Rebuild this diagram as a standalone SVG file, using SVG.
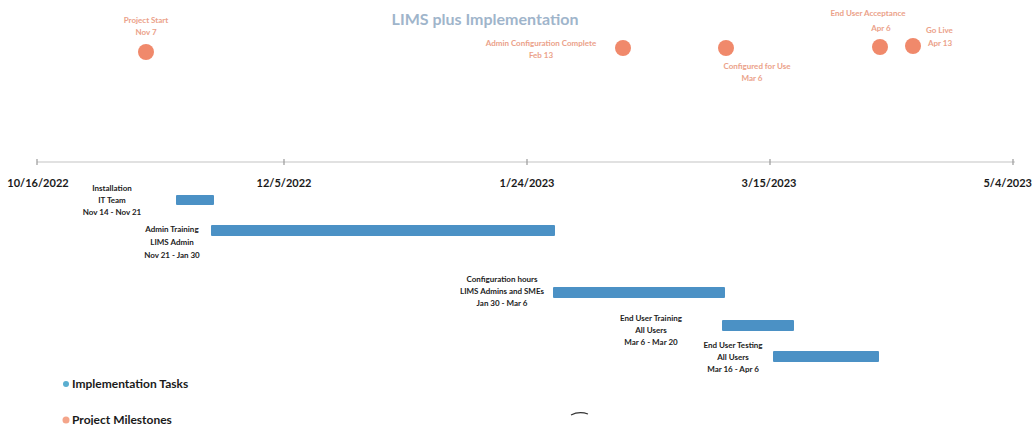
<svg xmlns="http://www.w3.org/2000/svg" width="1034" height="425" viewBox="0 0 1034 425">
<style>
  .title { font-family: Lato, "Open Sans", "Liberation Sans", sans-serif; font-size: 16px; font-weight: bold; fill: #9fb5cb; }
  .ms { font-family: Lato, "Liberation Sans", sans-serif; font-size: 8px; font-weight: bold; fill: #eba189; }
  .axis-lbl { font-family: Lato, "Liberation Sans", sans-serif; font-size: 11px; font-weight: bold; fill: #1a1a1a; }
  .task { font-family: Lato, "Liberation Sans", sans-serif; font-size: 8px; font-weight: bold; fill: #222; }
  .legend { font-family: Lato, "Liberation Sans", sans-serif; font-size: 12px; font-weight: bold; fill: #1a1a1a; }
  .bar { fill: #4b91c5; }
  .dot { fill: #f0896b; }
  .axis { stroke: #c4c4c4; stroke-width: 1.2; fill: none; }
  .tick { stroke: #9a9a9a; stroke-width: 1.2; }
</style>
<rect width="1034" height="425" fill="#ffffff"/>
<text class="title" x="485" y="25" text-anchor="middle">LIMS plus Implementation</text>

<g id="axis">
  <line class="axis" x1="37" y1="162" x2="1015" y2="162"/>
  <line class="tick" x1="37" y1="159" x2="37" y2="165"/>
  <line class="tick" x1="284" y1="159" x2="284" y2="165"/>
  <line class="tick" x1="527" y1="159" x2="527" y2="165"/>
  <line class="tick" x1="770" y1="159" x2="770" y2="165"/>
  <line class="tick" x1="1013" y1="159" x2="1013" y2="165"/>
  <text class="axis-lbl" x="38" y="187" text-anchor="middle">10/16/2022</text>
  <text class="axis-lbl" x="284" y="187" text-anchor="middle">12/5/2022</text>
  <text class="axis-lbl" x="527" y="187" text-anchor="middle">1/24/2023</text>
  <text class="axis-lbl" x="769" y="187" text-anchor="middle">3/15/2023</text>
  <text class="axis-lbl" x="1032" y="187" text-anchor="end">5/4/2023</text>
</g>

<g id="ms-project-start">
  <text class="ms" x="146" y="23" text-anchor="middle">Project Start</text>
  <text class="ms" x="146" y="35" text-anchor="middle">Nov 7</text>
  <circle class="dot" cx="146" cy="52" r="8"/>
</g>
<g id="ms-admin-config">
  <text class="ms" x="541" y="46" text-anchor="middle">Admin Configuration Complete</text>
  <text class="ms" x="541" y="58" text-anchor="middle">Feb 13</text>
  <circle class="dot" cx="623" cy="48" r="8"/>
</g>
<g id="ms-configured">
  <circle class="dot" cx="726" cy="48" r="8"/>
  <text class="ms" x="757" y="69" text-anchor="middle">Configured for Use</text>
  <text class="ms" x="752" y="81" text-anchor="middle">Mar 6</text>
</g>
<g id="ms-acceptance">
  <text class="ms" x="868" y="16" text-anchor="middle">End User Acceptance</text>
  <text class="ms" x="881" y="31" text-anchor="middle">Apr 6</text>
  <circle class="dot" cx="880" cy="47" r="8"/>
</g>
<g id="ms-golive">
  <circle class="dot" cx="913" cy="46" r="8"/>
  <text class="ms" x="926" y="33">Go Live</text>
  <text class="ms" x="928" y="46">Apr 13</text>
</g>

<g id="task-installation">
  <text class="task" x="112" y="191" text-anchor="middle">Installation</text>
  <text class="task" x="112" y="203" text-anchor="middle">IT Team</text>
  <text class="task" x="112" y="215" text-anchor="middle">Nov 14 - Nov 21</text>
  <rect class="bar" x="176" y="195" width="38" height="10" rx="1"/>
</g>
<g id="task-admin-training">
  <text class="task" x="172" y="232" text-anchor="middle">Admin Training</text>
  <text class="task" x="172" y="245" text-anchor="middle">LIMS Admin</text>
  <text class="task" x="172" y="258" text-anchor="middle">Nov 21 - Jan 30</text>
  <rect class="bar" x="211" y="225" width="344" height="11" rx="1"/>
</g>
<g id="task-configuration">
  <text class="task" x="502" y="282" text-anchor="middle">Configuration hours</text>
  <text class="task" x="502" y="294" text-anchor="middle">LIMS Admins and SMEs</text>
  <text class="task" x="502" y="306" text-anchor="middle">Jan 30 - Mar 6</text>
  <rect class="bar" x="553" y="287" width="172" height="11" rx="1"/>
</g>
<g id="task-eu-training">
  <text class="task" x="651" y="321" text-anchor="middle">End User Training</text>
  <text class="task" x="651" y="333" text-anchor="middle">All Users</text>
  <text class="task" x="651" y="345" text-anchor="middle">Mar 6 - Mar 20</text>
  <rect class="bar" x="722" y="320" width="72" height="11" rx="1"/>
</g>
<g id="task-eu-testing">
  <text class="task" x="733" y="348" text-anchor="middle">End User Testing</text>
  <text class="task" x="733" y="360" text-anchor="middle">All Users</text>
  <text class="task" x="733" y="372" text-anchor="middle">Mar 16 - Apr 6</text>
  <rect class="bar" x="773" y="351" width="106" height="11" rx="1"/>
</g>

<g id="connectors"></g>

<g id="legend">
  <circle cx="66" cy="384" r="3" fill="#5aaed0"/>
  <text class="legend" x="72" y="388">Implementation Tasks</text>
  <circle cx="66" cy="420" r="3.5" fill="#f4a58a"/>
  <text class="legend" x="72" y="424">Project Milestones</text>
</g>
<path d="M571 415 Q579 411 588 414" stroke="#333" stroke-width="1.2" fill="none"/>
</svg>
